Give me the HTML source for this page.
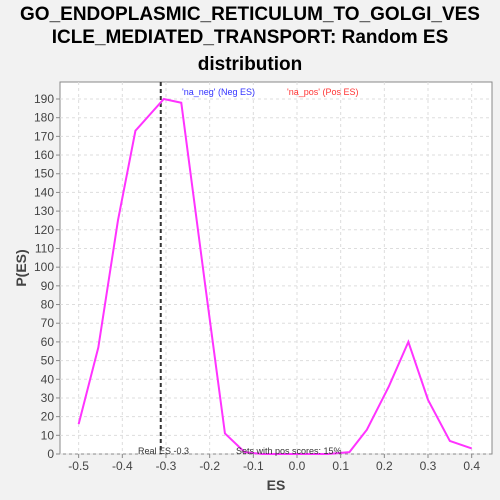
<!DOCTYPE html>
<html><head><meta charset="utf-8"><style>
body{margin:0;background:#f2f2f2;font-family:"Liberation Sans",sans-serif;overflow:hidden;}
svg{display:block;}
</style></head><body>
<svg width="500" height="500" xmlns="http://www.w3.org/2000/svg">
<rect width="500" height="500" fill="#f2f2f2"/>
<text x="250" y="20" text-anchor="middle" font-size="19" font-weight="bold">GO_ENDOPLASMIC_RETICULUM_TO_GOLGI_VES</text>
<text x="250" y="43" text-anchor="middle" font-size="19" font-weight="bold">ICLE_MEDIATED_TRANSPORT: Random ES</text>
<text x="250" y="70" text-anchor="middle" font-size="19" font-weight="bold">distribution</text>
<rect x="60" y="82" width="432" height="372" fill="#fff" stroke="#888"/>
<g id="grid"></g><g id="axes"></g><g id="series"></g>
<text x="182" y="95" font-size="9" fill="#3333ff">'na_neg' (Neg ES)</text>
<text x="287" y="95" font-size="9" fill="#ff3333">'na_pos' (Pos ES)</text>
<text x="138" y="454" font-size="9" fill="#333">Real ES -0.3</text>
<text x="236" y="454" font-size="9" fill="#333">Sets with pos scores: 15%</text>
<text x="276" y="490" text-anchor="middle" font-size="14" font-weight="bold" fill="#444">ES</text>
<text x="26" y="268" text-anchor="middle" font-size="14" font-weight="bold" fill="#444" transform="rotate(-90 26 268)">P(ES)</text>
</svg>
<script>
const xs=[-0.5,-0.455,-0.41,-0.37,-0.305,-0.265,-0.21,-0.165,-0.12,-0.08,-0.03,0.02,0.07,0.12,0.16,0.21,0.255,0.3,0.35,0.4];
const ys=[16,57,125,173,190,188,90,11,1,0,0,0,0,1,13,36,60,29,7,3];
const xTicks=[-0.5,-0.4,-0.3,-0.2,-0.1,0.0,0.1,0.2,0.3,0.4];
const yTicks=[0,10,20,30,40,50,60,70,80,90,100,110,120,130,140,150,160,170,180,190];
const realES=-0.312;
const X=v=>297+v*436.7, Y=v=>454-v*1.8684;
const NS="http://www.w3.org/2000/svg";
function mk(p,t,a){const e=document.createElementNS(NS,t);for(const k in a)e.setAttribute(k,a[k]);p.appendChild(e);return e;}
const g=document.getElementById('grid'),ax=document.getElementById('axes'),s=document.getElementById('series');
xTicks.forEach(v=>{
 const l=mk(g,'line',{x1:X(v),x2:X(v),y1:82,y2:454,stroke:'#ddd','stroke-dasharray':'3,3'});
 
 
 mk(ax,'line',{x1:X(v),x2:X(v),y1:454,y2:458,stroke:'#888'});
 const t=mk(ax,'text',{x:X(v),y:470,'text-anchor':'middle','font-size':12,fill:'#444'});t.textContent=v.toFixed(1);
 
 
});
yTicks.forEach(v=>{
 const l=mk(g,'line',{x1:60,x2:492,y1:Y(v),y2:Y(v),stroke:'#ddd','stroke-dasharray':'3,3'});
 
 
 mk(ax,'line',{x1:56,x2:60,y1:Y(v),y2:Y(v),stroke:'#888'});
 const t=mk(ax,'text',{x:54,y:Y(v)+4,'text-anchor':'end','font-size':12,fill:'#444'});t.textContent=v;
 
 
});
const rl=mk(s,'line',{x1:X(realES),x2:X(realES),y1:82,y2:454,stroke:'#333','stroke-width':2,'stroke-dasharray':'4,3'});


const pl=mk(s,'polyline',{points:xs.map((x,i)=>X(x)+','+Y(ys[i])).join(' '),fill:'none',stroke:'#ff33ff','stroke-width':2});


</script>
</body></html>
